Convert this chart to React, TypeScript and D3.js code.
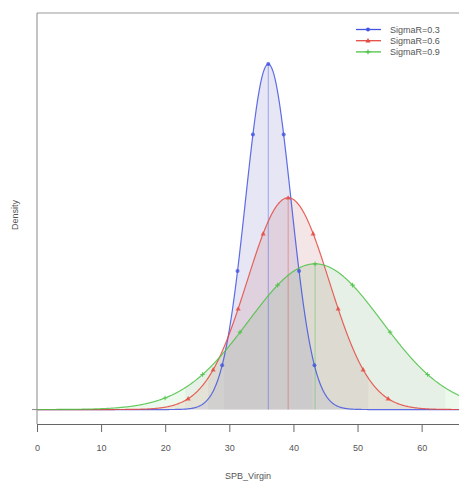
import * as d3 from "d3";

// values
const seriesNames = ["SigmaR=0.3", "SigmaR=0.6", "SigmaR=0.9"];
const means = [36.0, 39.1, 43.3];
const sds = [3.55, 6.4, 10.4];
const peaks = [0.1124, 0.0689, 0.0474];
const markerSteps = [2.4, 3.9, 5.85];
const lineColors = ["#4355e0", "#e44a42", "#4cc244"];
const xTicks = [0, 10, 20, 30, 40, 50, 60];

const width = 459;
const height = 483;

const x = d3.scaleLinear().domain([0, 65.75]).range([37.5, 459]);
const y = d3.scaleLinear().domain([-0.0047, 0.129]).range([424, 13]);

const dens = (i: number, v: number) =>
  peaks[i] * Math.exp(-0.5 * ((v - means[i]) / sds[i]) ** 2);

const grid = d3.range(0, 66.01, 0.1);

export default function App() {
  const line = d3.line<number>().x((d) => x(d));

  const area = d3
    .area<number>()
    .x((d) => x(d))
    .y0(y(0));

  return (
    <svg
      width={width}
      height={height}
      style={{ position: "absolute", left: 0, top: 0, background: "#fff" }}
      fontFamily="'Liberation Sans', Arial, sans-serif"
    >
      <defs>
        <clipPath id="plot">
          <rect x={37} y={13} width={width - 37} height={411} />
        </clipPath>
      </defs>
      <g clipPath="url(#plot)">
        {seriesNames.map((s, i) => {
          const lo = means[i] - 1.96 * sds[i];
          const hi = means[i] + 1.96 * sds[i];
          const inner = grid.filter((v) => v >= lo && v <= hi);
          return (
            <g key={"f" + s}>
              <path
                d={area.y1((v) => y(dens(i, v)))(grid) || ""}
                fill={lineColors[i]}
                fillOpacity={0.1}
              />
              <path
                d={area.y1((v) => y(dens(i, v)))(inner) || ""}
                fill="#b0a8b0"
                fillOpacity={0.1}
              />
            </g>
          );
        })}
        {seriesNames.map((s, i) => (
          <line
            key={"v" + s}
            x1={x(means[i])}
            x2={x(means[i])}
            y1={y(0)}
            y2={y(dens(i, means[i]))}
            stroke={lineColors[i]}
            strokeOpacity={0.45}
            strokeWidth={1}
          />
        ))}
        {seriesNames.map((s, i) => (
          <path
            key={"l" + s}
            d={line.y((v) => y(dens(i, v)))(grid) || ""}
            fill="none"
            stroke={lineColors[i]}
            strokeWidth={1.2}
            strokeOpacity={0.85}
          />
        ))}
        {seriesNames.map((s, i) => {
          const ks = d3.range(-6, 7);
          const pts = ks
            .map((k) => means[i] + k * markerSteps[i])
            .filter((v) => v > 0 && v < 66 && dens(i, v) > peaks[i] * 0.04);
          return (
            <g key={"m" + s} fill={lineColors[i]} stroke={lineColors[i]} opacity={0.8}>
              {pts.map((v, j) => (
                <Marker key={j} kind={i} cx={x(v)} cy={y(dens(i, v))} />
              ))}
            </g>
          );
        })}
      </g>

      {/* frame */}
      <line x1={37} x2={width} y1={13} y2={13} stroke="#999" strokeWidth={1} />
      <line x1={37} x2={37} y1={13} y2={424} stroke="#888" strokeWidth={1} />
      <line x1={32} x2={37} y1={y(0)} y2={y(0)} stroke="#888" strokeWidth={1} />

      {/* x axis */}
      <line x1={37} x2={width} y1={424.5} y2={424.5} stroke="#666" strokeWidth={1} />
      {xTicks.map((t) => (
        <g key={t} transform={`translate(${x(t)},0)`}>
          <line y1={424.5} y2={432} stroke="#666" strokeWidth={1} />
          <text y={451} textAnchor="middle" fontSize={9} fill="#555">
            {t}
          </text>
        </g>
      ))}
      <text x={248} y={479} textAnchor="middle" fontSize={9} fill="#555">
        SPB_Virgin
      </text>
      <text
        transform="translate(18,215) rotate(-90)"
        textAnchor="middle"
        fontSize={9}
        fill="#555"
      >
        Density
      </text>

      {/* legend */}
      {seriesNames.map((s, i) => {
        const ly = 29.5 + i * 11.2;
        return (
          <g key={"lg" + s}>
            <line x1={356} x2={381} y1={ly} y2={ly} stroke={lineColors[i]} strokeWidth={1.3} />
            <g fill={lineColors[i]} stroke={lineColors[i]}>
              <Marker kind={i} cx={368} cy={ly} />
            </g>
            <text x={390} y={ly + 3} fontSize={9} fill="#555">
              {s}
            </text>
          </g>
        );
      })}
    </svg>
  );
}

function Marker(props: { kind: number; cx: number; cy: number }) {
  const { kind, cx, cy } = props;
  if (kind === 0) return <circle cx={cx} cy={cy} r={2} strokeWidth={0} />;
  if (kind === 1) {
    const s = 2.6;
    return (
      <path
        d={`M${cx},${cy - s} L${cx + s},${cy + s * 0.7} L${cx - s},${cy + s * 0.7}Z`}
        strokeWidth={0}
      />
    );
  }
  const s = 2.3;
  return (
    <path
      d={`M${cx - s},${cy} H${cx + s} M${cx},${cy - s} V${cy + s}`}
      fill="none"
      strokeWidth={1.1}
    />
  );
}
